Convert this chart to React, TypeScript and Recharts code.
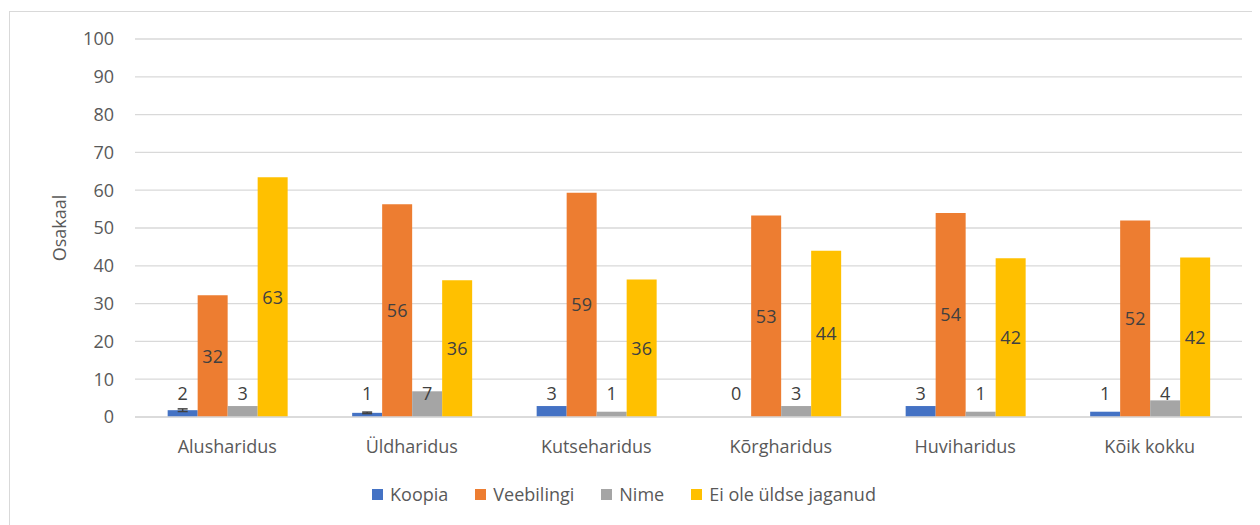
import React from "react";
import {
  Bar,
  BarChart,
  CartesianGrid,
  ErrorBar,
  LabelList,
  Legend,
  XAxis,
  YAxis
} from "recharts";

const categories = [
  "Alusharidus",
  "Üldharidus",
  "Kutseharidus",
  "Kõrgharidus",
  "Huviharidus",
  "Kõik kokku"
];

const koopia = [1.8, 1.1, 2.9, 0, 2.9, 1.4];
const koopiaErr = [0.35, 0.2, 0, 0, 0, 0];
const veebilingi = [32.2, 56.3, 59.3, 53.3, 54.0, 52.0];
const nime = [2.9, 6.8, 1.4, 2.9, 1.4, 4.4];
const jagamata = [63.4, 36.2, 36.4, 44.0, 42.0, 42.2];

const yTicks = [0, 10, 20, 30, 40, 50, 60, 70, 80, 90, 100];

const series = [
  { key: "koopia", name: "Koopia", color: "#4472C4" },
  { key: "veebilingi", name: "Veebilingi", color: "#ED7D31" },
  { key: "nime", name: "Nime", color: "#A5A5A5" },
  { key: "jagamata", name: "Ei ole üldse jaganud", color: "#FFC000" }
];

const data = categories.map((name, i) => ({
  name,
  koopia: koopia[i],
  koopiaErr: koopiaErr[i],
  veebilingi: veebilingi[i],
  nime: nime[i],
  jagamata: jagamata[i]
}));

const FONT = "'Open Sans', sans-serif";
const TEXT = "#595959";
const LABEL = "#404040";

const round = (v: any) => String(Math.round(Number(v)));

function AxisTitle({ viewBox }: any) {
  const cx = viewBox.x + 29;
  const cy = viewBox.y + viewBox.height / 2;
  return (
    <text
      x={cx}
      y={cy}
      transform={`rotate(-90, ${cx}, ${cy})`}
      textAnchor="middle"
      dominantBaseline="central"
      fill={TEXT}
      fontSize={18}
    >
      Osakaal
    </text>
  );
}

function LegendBox() {
  return (
    <div
      style={{
        display: "flex",
        justifyContent: "center",
        gap: 27,
        lineHeight: "26px",
        fontSize: 18,
        marginLeft: -24
      }}
    >
      {series.map((s) => (
        <div key={s.key} style={{ display: "flex", alignItems: "center", color: TEXT }}>
          <span style={{ width: 11, height: 11, background: s.color, marginRight: 7, display: "inline-block" }} />
          {s.name}
        </div>
      ))}
    </div>
  );
}

export default function App() {
  return (
    <div
      style={{
        marginLeft: 1,
        marginTop: 3,
        width: 1260,
        height: 520,
        borderLeft: "1px solid #d9d9d9",
        borderTop: "1px solid #d9d9d9",
        fontFamily: FONT,
        background: "#fff"
      }}
    >
      <BarChart
        width={1241}
        height={507}
        data={data}
        margin={{ top: 27, right: 9, left: 20, bottom: 12 }}
        barCategoryGap="17.7%"
        barGap={0}
      >
        <CartesianGrid vertical={false} stroke="#d9d9d9" strokeWidth={1.3} />
        <XAxis
          dataKey="name"
          height={64}
          tickLine={false}
          axisLine={{ stroke: "#d9d9d9", strokeWidth: 1.3 }}
          tickMargin={17}
          tick={{ fill: TEXT, fontSize: 18 }}
        />
        <YAxis
          width={105}
          domain={[0, 100]}
          ticks={yTicks}
          interval={0}
          tickLine={false}
          axisLine={false}
          tickSize={0}
          tickMargin={21}
          tick={{ fill: TEXT, fontSize: 18 }}
          label={<AxisTitle />}
        />
        <Legend verticalAlign="bottom" align="center" wrapperStyle={{ height: 26 }} content={() => <LegendBox />} />
        <Bar dataKey="koopia" name="Koopia" fill="#4472C4" minPointSize={0.01} isAnimationActive={false}>
          <ErrorBar dataKey="koopiaErr" direction="y" width={5} stroke="#404040" strokeWidth={1.5} />
          <LabelList
            dataKey="koopia"
            position="insideBottom"
            offset={17}
            formatter={round}
            fill={LABEL}
            fontSize={18}
          />
        </Bar>
        <Bar dataKey="veebilingi" name="Veebilingi" fill="#ED7D31" isAnimationActive={false}>
          <LabelList dataKey="veebilingi" position="center" formatter={round} fill={LABEL} fontSize={18} />
        </Bar>
        <Bar dataKey="nime" name="Nime" fill="#A5A5A5" isAnimationActive={false}>
          <LabelList
            dataKey="nime"
            position="insideBottom"
            offset={17}
            formatter={round}
            fill={LABEL}
            fontSize={18}
          />
        </Bar>
        <Bar dataKey="jagamata" name="Ei ole üldse jaganud" fill="#FFC000" isAnimationActive={false}>
          <LabelList dataKey="jagamata" position="center" formatter={round} fill={LABEL} fontSize={18} />
        </Bar>
      </BarChart>
    </div>
  );
}
